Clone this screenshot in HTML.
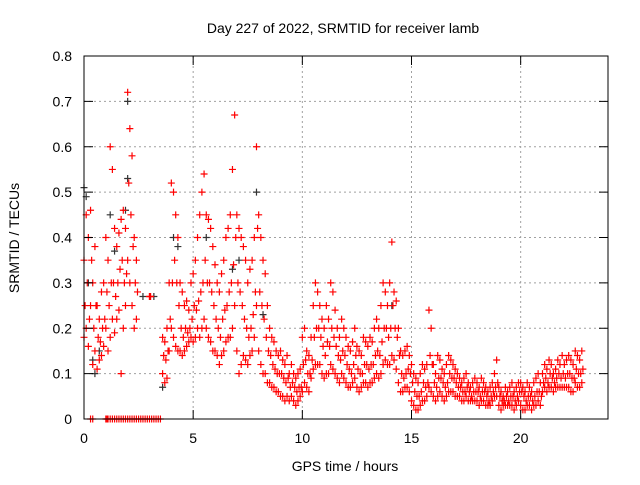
<!DOCTYPE html>
<html><head><meta charset="utf-8"><style>
body{margin:0;background:#fff}
svg text{font-family:"Liberation Sans",sans-serif;font-size:14px;fill:#000}
</style></head><body>
<svg id="chart" width="640" height="480" xmlns="http://www.w3.org/2000/svg">
<rect width="640" height="480" fill="#fff"/>
<g id="grid"></g>
<g id="pts"></g>
<rect x="84" y="56" width="524" height="363" fill="none" stroke="#000" stroke-width="1"/>
<g id="ticks"></g>
<text x="343" y="33" text-anchor="middle">Day 227 of 2022, SRMTID for receiver lamb</text>
<text x="345" y="471" text-anchor="middle">GPS time / hours</text>
<text transform="translate(19,238) rotate(-90)" text-anchor="middle">SRMTID / TECUs</text>
</svg>
<script>
const xTicks=[0,5,10,15,20];
const yTicks=[0,0.1,0.2,0.3,0.4,0.5,0.6,0.7,0.8];
const hours=[0,0.1,0.2,0.3,0.4,0.5,0.6,0.7,0.8,0.9,1.0,1.1,1.2,1.3,1.4,1.5,1.6,1.7,1.8,1.9,2.0,2.1,2.2,2.3,2.4,3.0,3.6,3.7,3.8,3.9,
4.0,4.1,4.2,4.3,4.4,4.5,4.6,4.7,4.8,4.9,5.0,5.1,5.2,5.3,5.4,5.5,5.6,5.7,5.8,5.9,6.0,6.1,6.2,6.3,6.4,6.5,6.6,6.7,6.8,6.9,
7.0,7.1,7.2,7.3,7.4,7.5,7.6,7.7,7.8,7.9,8.0,8.1,8.2,8.3,8.4,8.5,8.6,8.7,8.8,8.9,9.0,9.1,9.2,9.3,9.4,9.5,9.6,9.7,9.8,9.9,
10.0,10.1,10.2,10.3,10.4,10.5,10.6,10.7,10.8,10.9,11.0,11.1,11.2,11.3,11.4,11.5,11.6,11.7,11.8,11.9,12.0,12.1,12.2,12.3,12.4,12.5,12.6,12.7,12.8,12.9,
13.0,13.1,13.2,13.3,13.4,13.5,13.6,13.7,13.8,13.9,14.0,14.1,14.2,14.3,14.4,14.5,14.6,14.7,14.8,14.9,15.0,15.1,15.2,15.3,15.4,15.5,15.6,15.7,15.8,15.9,
16.0,16.1,16.2,16.3,16.4,16.5,16.6,16.7,16.8,16.9,17.0,17.1,17.2,17.3,17.4,17.5,17.6,17.7,17.8,17.9,18.0,18.1,18.2,18.3,18.4,18.5,18.6,18.7,18.8,18.9,
19.0,19.1,19.2,19.3,19.4,19.5,19.6,19.7,19.8,19.9,20.0,20.1,20.2,20.3,20.4,20.5,20.6,20.7,20.8,20.9,21.0,21.1,21.2,21.3,21.4,21.5,21.6,21.7,21.8,21.9,
22.0,22.1,22.2,22.3,22.4,22.5,22.6,22.7,22.8];
const redHi=[.35,.45,.40,.46,.30,.38,.25,.22,.28,.30,.40,.35,.60,.55,.42,.38,.41,.44,.46,.42,.72,.64,.58,.40,.35,.27,.18,.17,.20,.30,
.52,.50,.45,.40,.30,.28,.25,.26,.24,.30,.32,.35,.40,.45,.50,.54,.45,.44,.42,.38,.34,.30,.28,.32,.35,.40,.42,.45,.55,.67,
.45,.42,.40,.38,.35,.30,.33,.35,.40,.60,.45,.40,.35,.32,.25,.20,.18,.17,.15,.14,.15,.13,.12,.14,.10,.12,.10,.09,.10,.11,
.18,.20,.15,.14,.18,.25,.30,.28,.25,.22,.20,.25,.22,.30,.28,.24,.20,.18,.22,.20,.18,.16,.15,.17,.20,.16,.15,.14,.18,.17,
.16,.18,.17,.20,.22,.20,.25,.30,.28,.25,.30,.39,.28,.26,.20,.15,.14,.15,.16,.14,.12,.10,.09,.08,.10,.12,.11,.12,.24,.20,
.12,.10,.14,.13,.11,.10,.12,.14,.13,.12,.11,.10,.09,.08,.09,.10,.08,.07,.08,.09,.08,.07,.09,.08,.07,.06,.07,.08,.10,.13,
.07,.06,.05,.07,.06,.07,.08,.06,.07,.08,.08,.07,.06,.08,.07,.06,.08,.09,.10,.08,.10,.12,.11,.13,.12,.10,.11,.13,.12,.14,
.12,.13,.14,.13,.12,.15,.14,.13,.15];
const redMid=[.25,.30,.22,.35,.20,.25,.18,.17,.20,.22,.28,.25,.30,.30,.27,.30,.33,.35,.30,.32,.52,.45,.38,.30,.28,.27,.14,.13,.15,.22,
.30,.35,.30,.25,.20,.18,.20,.19,.20,.22,.25,.24,.26,.28,.30,.35,.30,.30,.28,.25,.22,.20,.18,.22,.24,.25,.28,.30,.34,.40,
.30,.28,.25,.22,.20,.18,.20,.23,.28,.42,.28,.25,.22,.18,.15,.14,.12,.11,.10,.10,.10,.09,.08,.09,.07,.08,.07,.06,.07,.07,
.12,.13,.10,.10,.13,.18,.20,.20,.18,.16,.14,.17,.16,.20,.18,.16,.14,.13,.15,.14,.12,.11,.10,.12,.14,.11,.10,.10,.12,.12,
.11,.12,.12,.14,.15,.14,.17,.20,.20,.18,.20,.25,.20,.18,.14,.10,.09,.10,.11,.10,.08,.06,.05,.05,.06,.08,.07,.08,.14,.12,
.08,.07,.09,.09,.08,.07,.08,.10,.09,.09,.08,.07,.07,.06,.06,.07,.06,.05,.06,.06,.06,.05,.06,.06,.05,.04,.05,.06,.07,.08,
.05,.04,.04,.05,.04,.05,.05,.04,.05,.06,.06,.05,.04,.05,.05,.04,.05,.06,.06,.05,.08,.09,.08,.10,.09,.08,.09,.10,.09,.10,
.09,.10,.10,.09,.09,.11,.10,.10,.11];
const redLo=[.18,.20,.16,.25,.12,.15,.11,.13,.14,.16,.20,.15,.18,.22,.19,.22,.24,.10,.20,.25,.35,.30,.25,.20,.22,.27,.10,.08,.09,.15,
.20,.18,.16,.15,.15,.14,.15,.16,.17,.18,.17,.18,.20,.18,.20,.22,.20,.18,.17,.15,.15,.14,.12,.14,.15,.17,.18,.18,.20,.25,
.15,.10,.12,.14,.13,.12,.14,.15,.18,.25,.15,.12,.10,.10,.08,.08,.07,.07,.06,.06,.05,.05,.04,.05,.04,.05,.04,.03,.04,.05,
.06,.08,.07,.06,.09,.11,.12,.12,.12,.10,.09,.10,.10,.12,.11,.10,.09,.08,.10,.09,.08,.07,.07,.08,.09,.07,.06,.07,.08,.08,
.07,.08,.08,.09,.10,.09,.10,.12,.13,.12,.12,.14,.13,.11,.08,.06,.06,.07,.07,.06,.04,.03,.02,.02,.03,.04,.04,.05,.07,.06,
.05,.04,.05,.06,.05,.04,.05,.06,.06,.06,.05,.05,.05,.04,.04,.05,.04,.04,.04,.04,.04,.03,.04,.04,.03,.03,.03,.04,.05,.05,
.03,.02,.03,.03,.03,.03,.03,.02,.03,.04,.03,.02,.02,.03,.03,.02,.03,.03,.04,.03,.06,.07,.06,.07,.07,.06,.07,.07,.07,.07,
.07,.07,.07,.06,.06,.08,.07,.07,.08];
const zeroHours=[0.3,0.4,1.0,1.05,1.1,1.2,1.3,1.4,1.5,1.6,1.7,1.8,1.9,2.0,2.1,2.2,2.3,2.4,2.5,2.6,2.7,2.8,2.9,3.0,3.1,3.2,3.3,3.4,3.5];
const blackHours=[0,0.1,0.4,0.5,0.2,1.2,1.4,1.9,2.0,2.0,2.7,3.2,3.6,4.1,4.3,5.6,6.8,7.1,7.9,8.2,14.1,0.7];
const blackVals=[.51,.49,.13,.10,.30,.45,.37,.46,.53,.70,.27,.27,.07,.40,.38,.40,.33,.35,.50,.23,.25,.15];

const X=h=>84+h*(524/24), Y=v=>419-v*(363/0.8);
const NS='http://www.w3.org/2000/svg';
const grid=document.getElementById('grid'),ticks=document.getElementById('ticks'),pts=document.getElementById('pts');
function mk(tag,attrs,parent){const e=document.createElementNS(NS,tag);for(const k in attrs)e.setAttribute(k,attrs[k]);parent.appendChild(e);return e;}
xTicks.forEach(t=>{const x=X(t);
 if(t>0){const g=mk('line',{x1:x,y1:56,x2:x,y2:419,stroke:'#a0a0a0','stroke-dasharray':'2,3'},grid);
 }
 mk('line',{x1:x,y1:419,x2:x,y2:410,stroke:'#000'},ticks);mk('line',{x1:x,y1:56,x2:x,y2:65,stroke:'#000'},ticks);
 const l=mk('text',{x:x,y:443,'text-anchor':'middle'},ticks);l.textContent=t;
 });
yTicks.forEach(t=>{const y=Y(t);
 if(t>0&&t<0.8){const g=mk('line',{x1:84,y1:y,x2:608,y2:y,stroke:'#a0a0a0','stroke-dasharray':'2,3'},grid);
 }
 mk('line',{x1:84,y1:y,x2:93,y2:y,stroke:'#000'},ticks);mk('line',{x1:608,y1:y,x2:599,y2:y,stroke:'#000'},ticks);
 const l=mk('text',{x:72,y:y+5,'text-anchor':'end'},ticks);l.textContent=t===0?'0':t.toFixed(1);
 });
function plus(h,v,c){const x=X(h),y=Y(v);
 const p=mk('path',{d:`M${x-3.5},${y}h7M${x},${y-3.5}v7`,stroke:c,'stroke-width':1.2,fill:'none'},pts);
 
 }
blackHours.forEach((h,i)=>plus(h,blackVals[i],'#333'));
hours.forEach((h,i)=>{plus(h,redHi[i],'#f00');plus(h+0.05,redMid[i],'#f00');plus(h,redLo[i],'#f00');});
zeroHours.forEach(h=>plus(h,0,'#f00'));
</script>
</body></html>
